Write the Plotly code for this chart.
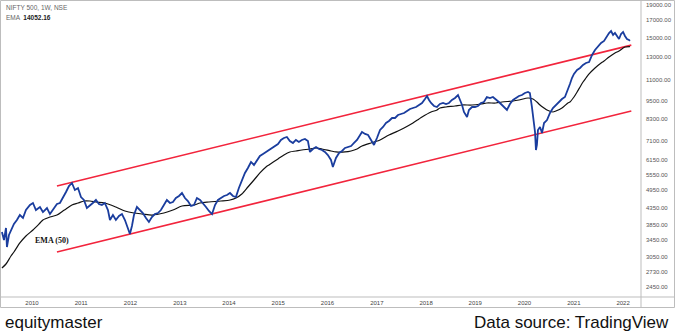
import plotly.graph_objects as go

# NIFTY 500 weekly close (sampled)
price_dates = [
    "2009-05-23", "2009-06-07", "2009-06-22", "2009-06-29", "2009-07-14", "2009-07-29", "2009-08-20",
    "2009-09-11", "2009-10-03", "2009-10-26", "2009-11-17", "2009-12-17",
    "2010-01-08", "2010-01-30", "2010-03-01", "2010-03-23", "2010-04-22", "2010-05-14", "2010-06-13",
    "2010-07-05", "2010-07-27", "2010-08-18", "2010-09-10", "2010-10-02", "2010-10-24", "2010-11-15",
    "2010-12-08", "2010-12-30",
    "2011-01-21", "2011-02-12", "2011-03-06", "2011-03-28", "2011-04-20", "2011-05-12", "2011-06-03",
    "2011-06-25", "2011-07-18", "2011-08-02", "2011-08-24", "2011-09-15", "2011-10-08", "2011-10-30",
    "2011-11-21", "2011-12-13", "2011-12-28",
    "2012-01-12", "2012-01-27", "2012-02-18", "2012-03-11", "2012-04-02", "2012-04-25", "2012-05-17",
    "2012-06-08", "2012-06-30", "2012-07-23", "2012-08-14", "2012-09-05", "2012-09-27", "2012-10-20",
    "2012-11-11", "2012-12-03", "2012-12-26",
    "2013-01-17", "2013-02-08", "2013-03-02", "2013-03-25", "2013-04-16", "2013-05-08", "2013-05-31",
    "2013-06-22", "2013-07-14", "2013-08-05", "2013-08-28", "2013-09-19", "2013-10-11", "2013-11-02",
    "2013-11-25", "2013-12-17",
    "2014-01-08", "2014-01-30", "2014-02-21", "2014-03-15", "2014-04-06", "2014-04-29", "2014-05-21",
    "2014-06-13", "2014-07-05", "2014-07-27", "2014-08-18", "2014-09-10", "2014-10-02", "2014-10-24",
    "2014-11-15", "2014-12-08", "2014-12-30",
    "2015-01-21", "2015-02-12", "2015-03-06", "2015-03-28", "2015-04-20", "2015-05-12", "2015-06-03",
    "2015-06-25", "2015-07-18", "2015-08-09", "2015-08-24", "2015-09-15", "2015-10-08", "2015-10-30",
    "2015-11-21", "2015-12-13",
    "2016-01-04", "2016-01-27", "2016-02-10", "2016-03-04", "2016-03-27", "2016-04-18", "2016-05-10",
    "2016-06-02", "2016-06-24", "2016-07-16", "2016-08-07", "2016-08-30", "2016-09-13", "2016-10-06",
    "2016-10-28", "2016-11-19", "2016-12-11",
    "2017-01-02", "2017-01-25", "2017-02-16", "2017-03-10", "2017-04-01", "2017-04-24", "2017-05-16",
    "2017-06-07", "2017-06-29", "2017-07-22", "2017-08-13", "2017-09-04", "2017-09-26", "2017-10-19",
    "2017-11-10", "2017-12-02", "2017-12-24",
    "2018-01-08", "2018-01-23", "2018-02-07", "2018-03-01", "2018-03-23", "2018-04-14", "2018-05-07",
    "2018-05-29", "2018-06-20", "2018-07-12", "2018-08-04", "2018-08-26", "2018-09-10", "2018-09-25",
    "2018-10-09", "2018-11-01", "2018-11-15", "2018-12-08", "2018-12-30",
    "2019-01-21", "2019-02-12", "2019-03-06", "2019-03-28", "2019-04-20", "2019-05-12", "2019-06-03",
    "2019-06-25", "2019-07-18", "2019-08-09", "2019-08-24", "2019-09-15", "2019-10-08", "2019-10-30",
    "2019-11-21", "2019-12-13",
    "2020-01-04", "2020-01-27", "2020-02-10", "2020-02-25", "2020-03-04", "2020-03-19", "2020-03-26",
    "2020-04-02", "2020-04-10", "2020-04-25", "2020-05-10", "2020-05-25", "2020-06-16", "2020-07-08",
    "2020-07-30", "2020-08-21", "2020-09-13", "2020-10-05", "2020-10-27", "2020-11-18", "2020-12-03",
    "2020-12-18",
    "2021-01-02", "2021-01-25", "2021-02-16", "2021-03-10", "2021-04-01", "2021-04-24", "2021-05-16",
    "2021-06-07", "2021-06-29", "2021-07-22", "2021-08-13", "2021-09-04", "2021-09-19", "2021-10-04",
    "2021-10-19", "2021-11-02", "2021-11-17", "2021-12-02", "2021-12-17",
    "2022-01-01", "2022-01-15", "2022-01-30", "2022-02-14", "2022-02-21",
]
price_close = [
    3653, 3448, 3762, 3277, 3575, 3707, 3873,
    3986, 4133, 4045, 4286, 4445,
    4510, 4286, 4381, 4224, 4349, 4163, 4349,
    4477, 4510, 4677, 4886, 5103, 5216, 4957,
    5029, 4711,
    4610, 4349, 4445, 4510, 4610, 4477, 4445,
    4510, 4286, 3986, 4133, 3986, 4104, 4163,
    3986, 3762, 3601,
    3817, 4133, 4381, 4286, 4194, 4045, 3929,
    4074, 4163, 4194, 4286, 4445, 4610, 4510,
    4543, 4677, 4746,
    4850, 4677, 4576, 4413, 4445, 4677, 4610,
    4510, 4381, 4256, 4163, 4445, 4610, 4677,
    4746, 4781,
    4850, 4746, 4711, 5029, 5331, 5610, 5816,
    6076, 5945, 6165, 6346, 6439, 6534, 6629,
    6726, 6823, 6924,
    7129, 7233, 7285, 7077, 6975, 7129, 7026,
    7129, 7181, 7077, 6534, 6677, 6776, 6677,
    6629, 6534,
    6392, 6165, 5859, 6255, 6486, 6581, 6726,
    6776, 6823, 6975, 7129, 7392, 7554, 7447,
    7392, 7129, 6875,
    7233, 7665, 7834, 8065, 8182, 8363, 8363,
    8547, 8610, 8672, 8799, 8929, 8993, 9059,
    9191, 9325, 9601,
    9812, 9531, 9325, 9125, 9059, 9259, 9325,
    9259, 9325, 9531, 9670, 9883, 9531, 9191,
    8735, 8424, 8863, 9059, 9059,
    9125, 9325, 9393, 9741, 9670, 9741, 9531,
    9393, 9191, 8993, 8863, 9259, 9531, 9670,
    9812, 9883,
    10028, 10101, 10028, 9059, 8363, 7554, 6629,
    6875, 7665, 7834, 7499, 8065, 8241, 8672,
    8993, 9191, 9462, 9601, 9741, 10250, 10706,
    11182,
    11514, 11853, 12025, 12290, 12470, 12560, 13216,
    13706, 14108, 14420, 14631, 15171, 15506, 15733,
    15285, 15506, 15171, 14845, 15392,
    15620, 15171, 14845, 14736, 14631,
]

# 50-period EMA of the weekly close
ema_dates = [
    "2009-05-23", "2009-06-22", "2009-07-29", "2009-08-20", "2009-10-03", "2009-11-17",
    "2010-01-08", "2010-03-01", "2010-03-23", "2010-05-14", "2010-07-05", "2010-08-18", "2010-09-10",
    "2010-10-24", "2010-12-08",
    "2011-01-21", "2011-03-06", "2011-04-20", "2011-06-25", "2011-09-15", "2011-11-21",
    "2012-01-27", "2012-04-02", "2012-06-08", "2012-09-05", "2012-11-11",
    "2013-01-17", "2013-04-16", "2013-05-31", "2013-08-05", "2013-11-02",
    "2014-01-08", "2014-02-21", "2014-04-06", "2014-05-21", "2014-07-05", "2014-08-18", "2014-10-02",
    "2014-10-24", "2014-12-30",
    "2015-02-12", "2015-03-28", "2015-05-12", "2015-06-25", "2015-08-24", "2015-10-08", "2015-11-21",
    "2016-01-27", "2016-03-04", "2016-05-10", "2016-06-24", "2016-08-07", "2016-09-13", "2016-11-19",
    "2016-12-11",
    "2017-01-25", "2017-04-01", "2017-06-07", "2017-07-22", "2017-09-26", "2017-11-10", "2017-12-02",
    "2018-02-07", "2018-03-23", "2018-04-14", "2018-05-29", "2018-08-04", "2018-09-25", "2018-12-08",
    "2019-02-12", "2019-03-28", "2019-06-03", "2019-07-18", "2019-10-08", "2019-11-21",
    "2020-01-27", "2020-03-04", "2020-04-02", "2020-04-25", "2020-05-25", "2020-06-16", "2020-07-30",
    "2020-08-21", "2020-10-05", "2020-11-18", "2020-12-03",
    "2021-01-02", "2021-01-25", "2021-02-16", "2021-03-10", "2021-04-01", "2021-04-24", "2021-06-07",
    "2021-07-22", "2021-08-13", "2021-09-19", "2021-11-02", "2021-12-02",
    "2022-01-15", "2022-02-21",
]
ema_values = [
    2813, 2896, 3069, 3160, 3374, 3549,
    3707, 3900, 3986, 4074, 4133, 4256, 4318,
    4445, 4510,
    4576, 4576, 4543, 4510, 4381, 4256,
    4194, 4163, 4133, 4194, 4286,
    4413, 4445, 4510, 4543, 4576,
    4610, 4677, 4815, 5066, 5331, 5610, 5859,
    5945, 6209,
    6392, 6534, 6581, 6629, 6677, 6726, 6677,
    6581, 6534, 6534, 6581, 6677, 6823, 6975,
    7026,
    7129, 7392, 7610, 7779, 8065, 8305, 8424,
    8735, 8863, 8993, 9059, 9125, 9191, 9191,
    9259, 9325, 9325, 9393, 9462, 9531,
    9670, 9601, 9393, 9191, 8993, 8863, 8735,
    8799, 8993, 9325, 9393,
    9741, 10101, 10476, 10862, 11182, 11514, 12025,
    12470, 12652, 13025, 13410, 13607,
    14006, 14052.16,
]

# Rising channel drawn on the chart
channel_dates = ["2010-07-05", "2022-03-03"]
channel_upper = [5100, 14200]
channel_lower = [3160, 8800]

# Right-hand price scale and year labels
y_ticks = [19000, 17000, 15000, 13000, 11000, 9500, 8300, 7100, 6150,
           5550, 4950, 4350, 3850, 3450, 3050, 2730, 2450]
year_labels = [str(y) for y in range(2010, 2023)]

W, H = 675, 333
L, R, T, B = 1, 34, 1, 36
pw, ph = W - L - R, H - T - B


def px_x(px):
    return (px - L) / pw


def px_y(py):
    return 1 - (py - T) / ph


fig = go.Figure()

fig.add_trace(go.Scatter(x=channel_dates, y=channel_upper, mode="lines",
                         line=dict(color="#f2243c", width=1.6), hoverinfo="skip"))
fig.add_trace(go.Scatter(x=channel_dates, y=channel_lower, mode="lines",
                         line=dict(color="#f2243c", width=1.6), hoverinfo="skip"))
fig.add_trace(go.Scatter(x=ema_dates, y=ema_values, mode="lines",
                         line=dict(color="#111111", width=1.2, shape="spline", smoothing=0.8)))
fig.add_trace(go.Scatter(x=price_dates, y=price_close, mode="lines",
                         line=dict(color="#1a3d9e", width=1.8)))

fig.update_layout(
    width=W, height=H,
    margin=dict(l=L, r=R, t=T, b=B),
    paper_bgcolor="white", plot_bgcolor="white",
    showlegend=False,
    font=dict(family="Liberation Sans, Arial, sans-serif"),
)

fig.update_xaxes(
    type="date",
    range=["2009-05-16", "2022-05-14"],
    tickvals=[f"{y}-01-01" for y in year_labels],
    ticktext=year_labels,
    tickfont=dict(size=6, color="#444444"),
    showgrid=False, zeroline=False, showline=False,
    ticks="", ticklabelstandoff=1,
)

fig.update_yaxes(
    type="log",
    side="right",
    range=[3.3577, 4.2914],
    tickvals=y_ticks,
    ticktext=[f"{v:.2f}" for v in y_ticks],
    tickfont=dict(size=6, color="#555555"),
    showgrid=False, zeroline=False, showline=False,
    ticks="", ticklabelstandoff=4,
)

border = "#bdbdbd"
shapes = [
    # outer frame of the chart panel
    dict(type="rect", xref="paper", yref="paper",
         x0=px_x(0.5), x1=px_x(674.5), y0=px_y(307.5), y1=px_y(0.5),
         line=dict(color=border, width=1)),
    # price-scale separator
    dict(type="line", xref="paper", yref="paper",
         x0=1, x1=1, y0=px_y(307.5), y1=px_y(0.5),
         line=dict(color=border, width=1)),
    # time-scale separator
    dict(type="line", xref="paper", yref="paper",
         x0=px_x(0.5), x1=px_x(674.5), y0=0, y1=0,
         line=dict(color=border, width=1)),
]
fig.update_layout(shapes=shapes)

annotations = [
    dict(x=px_x(4), y=px_y(7), text="NIFTY 500, 1W, NSE", showarrow=False,
         xanchor="left", yanchor="middle", font=dict(size=6.5, color="#666666")),
    dict(x=px_x(4), y=px_y(17),
         text="EMA  <span style='color:#222222'><b>14052.16</b></span>", showarrow=False,
         xanchor="left", yanchor="middle", font=dict(size=6.5, color="#666666")),
    dict(x=px_x(33), y=px_y(240), text="<b>EMA (50)</b>", showarrow=False,
         xanchor="left", yanchor="middle",
         font=dict(size=8, color="#111111", family="Liberation Serif, Times New Roman, serif")),
    dict(x=px_x(3), y=px_y(322), text="equitymaster", showarrow=False,
         xanchor="left", yanchor="middle",
         font=dict(size=17, color="#111111", family="Liberation Sans, Arial, sans-serif")),
    dict(x=px_x(671), y=px_y(322), text="Data source: TradingView", showarrow=False,
         xanchor="right", yanchor="middle",
         font=dict(size=17, color="#111111", family="Liberation Sans, Arial, sans-serif")),
]
for a in annotations:
    a.update(xref="paper", yref="paper")
fig.update_layout(annotations=annotations)

fig.write_html("out.html")
